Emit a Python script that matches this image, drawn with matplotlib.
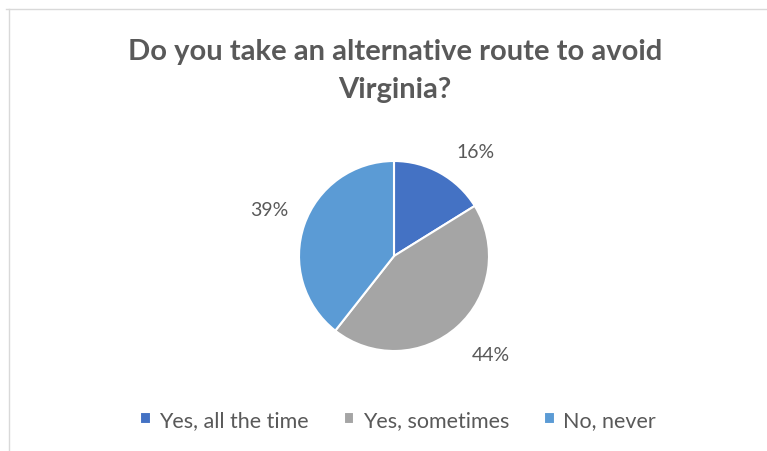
import matplotlib
matplotlib.use("Agg")
import matplotlib.pyplot as plt
from matplotlib.lines import Line2D

# survey answers (percent)
answers = ["Yes, all the time", "Yes, sometimes", "No, never"]
shares = [16, 44, 39]
colors = ["#4472C4", "#A5A5A5", "#5B9BD5"]
# small shifts of the outside labels, in pie radii
label_nudge = [(0.18, -0.11), (0.09, 0.0), (0.0, 0.03)]

plt.rcParams['font.family'] = ['Lato', 'DejaVu Sans']
text_grey = "#595959"

W, H = 767, 452
fig = plt.figure(figsize=(W / 100, H / 100), dpi=100)

# chart frame (top and left edges only)
fig.add_artist(Line2D([6 / W, 1], [1 - 10 / H, 1 - 10 / H], color="#d9d9d9", lw=1))
fig.add_artist(Line2D([9 / W, 9 / W], [0, 1 - 10 / H], color="#d9d9d9", lw=1))

fig.text(395 / W, 1 - 71 / H, "Do you take an alternative route to avoid\nVirginia?",
         ha="center", va="center", fontsize=21, weight="bold", color=text_grey,
         linespacing=1.6)

cx, cy, r = 394, 257, 95
ax = fig.add_axes([(cx - r) / W, (H - cy - r) / H, 2 * r / W, 2 * r / H])
wedges, texts, autotexts = ax.pie(
    shares, colors=colors, startangle=90, counterclock=False,
    autopct="%d%%", pctdistance=1.39,
    wedgeprops=dict(edgecolor="white", linewidth=1.5),
    textprops=dict(color=text_grey, fontsize=14))
for t, v, (dx, dy) in zip(autotexts, shares, label_nudge):
    t.set_text(str(v) + "%")
    x, y = t.get_position()
    t.set_position((x + dx, y + dy))
ax.set_xlim(-1, 1)
ax.set_ylim(-1, 1)
ax.axis("off")

leg = fig.legend(wedges, answers, loc="center", bbox_to_anchor=(398 / W, 1 - 421 / H),
                 ncol=3, frameon=False, handlelength=0.5, handleheight=0.5,
                 handletextpad=0.4, columnspacing=1.6, fontsize=15.5)
for t in leg.get_texts():
    t.set_color(text_grey)

fig.savefig("out.png", dpi=100)
